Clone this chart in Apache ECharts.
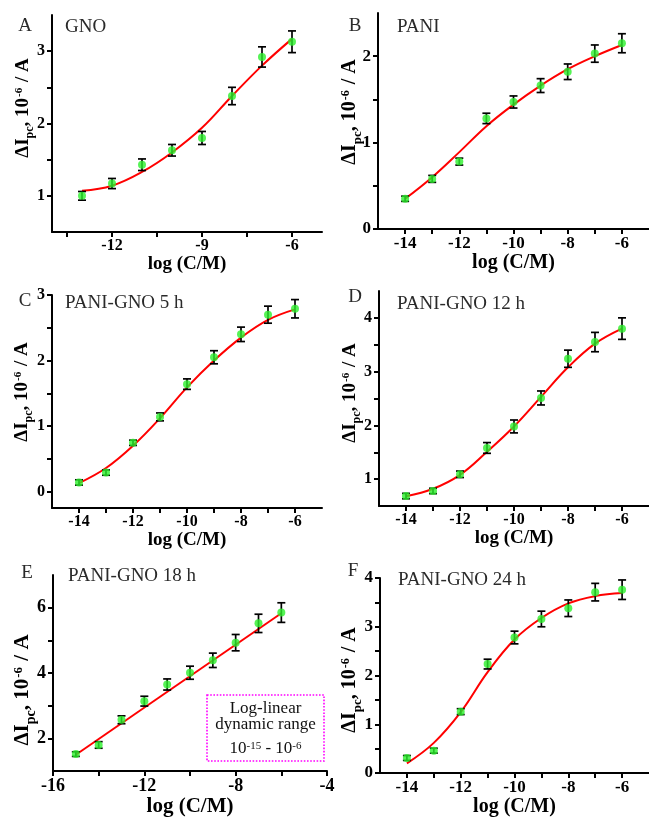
<!DOCTYPE html>
<html><head><meta charset="utf-8">
<script src="https://cdn.jsdelivr.net/npm/echarts@6/dist/echarts.min.js"></script>
<style>html,body{margin:0;padding:0;background:#fff}#c{width:649px;height:818px}</style>
</head><body><div id="c"></div>
<script>
// ---------- data ----------
const xA = [-13, -12, -11, -10, -9, -8, -7, -6];
const yA = [1.00, 1.17, 1.43, 1.63, 1.80, 2.38, 2.92, 3.13];
const eA = [0.06, 0.07, 0.08, 0.08, 0.09, 0.12, 0.14, 0.15];
const fitA = [1.07, 1.14, 1.33, 1.60, 1.94, 2.38, 2.80, 3.17];

const xB = [-14, -13, -12, -11, -10, -9, -8, -7, -6];
const yB = [0.35, 0.58, 0.78, 1.28, 1.47, 1.66, 1.82, 2.03, 2.15];
const eB = [0.03, 0.04, 0.04, 0.06, 0.07, 0.08, 0.09, 0.10, 0.11];
const fitB = [0.35, 0.60, 0.89, 1.19, 1.44, 1.66, 1.85, 2.00, 2.13];

const xC = [-14, -13, -12, -11, -10, -9, -8, -7, -6];
const yC = [0.14, 0.29, 0.745, 1.14, 1.64, 2.05, 2.40, 2.70, 2.79];
const eC = [0.04, 0.04, 0.04, 0.06, 0.08, 0.10, 0.11, 0.13, 0.14];
const fitC = [0.13, 0.36, 0.70, 1.12, 1.59, 2.00, 2.35, 2.62, 2.78];

const xD = [-14, -13, -12, -11, -10, -9, -8, -7, -6];
const yD = [0.685, 0.78, 1.09, 1.58, 1.98, 2.51, 3.24, 3.55, 3.80];
const eD = [0.05, 0.05, 0.06, 0.10, 0.12, 0.13, 0.16, 0.18, 0.20];
const fitD = [0.68, 0.82, 1.08, 1.51, 1.98, 2.53, 3.08, 3.52, 3.80];

const xE = [-15, -14, -13, -12, -11, -10, -9, -8, -7, -6];
const yE = [1.52, 1.80, 2.57, 3.14, 3.65, 4.01, 4.39, 4.93, 5.52, 5.85];
const eE = [0.07, 0.10, 0.12, 0.15, 0.17, 0.20, 0.22, 0.25, 0.28, 0.30];
const xFitE = [-15, -6];
const fitE = [1.50, 5.83];

const xF = [-14, -13, -12, -11, -10, -9, -8, -7, -6];
const yF = [0.31, 0.46, 1.26, 2.235, 2.78, 3.16, 3.38, 3.71, 3.76];
const eF = [0.05, 0.05, 0.06, 0.10, 0.13, 0.16, 0.17, 0.18, 0.20];
const fitF = [0.20, 0.62, 1.25, 2.07, 2.74, 3.18, 3.48, 3.63, 3.69];

// tick labels / tick positions
const xLabA = [-12, -9, -6];            const xTickA = [-13.5, -12, -10.5, -9, -7.5, -6];
const yLabA = [1, 2, 3];                const yTickA = [1, 1.5, 2, 2.5, 3];
const xLab2 = [-14, -12, -10, -8, -6];  const xTick2 = [-14, -13, -12, -11, -10, -9, -8, -7, -6];
const yLabB = [0, 1, 2];                const yTickB = [0, 0.5, 1, 1.5, 2];
const yLabC = [0, 1, 2, 3];             const yTickC = [0, 0.5, 1, 1.5, 2, 2.5, 3];
const yLabD = [1, 2, 3, 4];             const yTickD = [1, 1.5, 2, 2.5, 3, 3.5, 4];
const xLabE = [-16, -12, -8, -4];       const xTickE = [-16, -14, -12, -10, -8, -6, -4];
const yLabE = [2, 4, 6];                const yTickE = [2, 3, 4, 5, 6];
const yLabF = [0, 1, 2, 3, 4];          const yTickF = [0, 0.5, 1, 1.5, 2, 2.5, 3, 3.5, 4];

const letters = ['A', 'B', 'C', 'D', 'E', 'F'];
const names = ['GNO', 'PANI', 'PANI-GNO 5 h', 'PANI-GNO 12 h', 'PANI-GNO 18 h', 'PANI-GNO 24 h'];
const xTitle = 'log (C/M)';

// ---------- layout ----------
const FONT = '"Liberation Serif","Times New Roman",serif';
const panels = [
  {x: xA, y: yA, e: eA, fx: xA, fy: fitA, xr: [-14, -5], yr: [0.5, 3.5], xl: xLabA, xt: xTickA, yl: yLabA, yt: yTickA,
   g: {left: 52, top: 15, width: 270, height: 217}, s: 1.0, gap: 19, yt0: [25, 108], lab: [25, 26], nm: [65, 27]},
  {x: xB, y: yB, e: eB, fx: xB, fy: fitB, xr: [-15, -5], yr: [0, 2.5], xl: xLab2, xt: xTick2, yl: yLabB, yt: yTickB,
   g: {left: 378, top: 13, width: 272, height: 216}, s: 1.08, gap: 24, yt0: [352, 112], lab: [355, 26], nm: [397, 27]},
  {x: xC, y: yC, e: eC, fx: xC, fy: fitC, xr: [-15, -5], yr: [-0.25, 3], xl: xLab2, xt: xTick2, yl: yLabC, yt: yTickC,
   g: {left: 52, top: 295, width: 270, height: 213}, s: 1.0, gap: 8, yt0: [24, 392], lab: [25, 301], nm: [65, 303]},
  {x: xD, y: yD, e: eD, fx: xD, fy: fitD, xr: [-15, -5], yr: [0.5, 4.5], xl: xLab2, xt: xTick2, yl: yLabD, yt: yTickD,
   g: {left: 379, top: 291, width: 272, height: 215}, s: 1.0, gap: 11, yt0: [352, 393], lab: [355, 297], nm: [397, 304]},
  {x: xE, y: yE, e: eE, fx: xFitE, fy: fitE, xr: [-16, -4], yr: [1, 7], xl: xLabE, xt: xTickE, yl: yLabE, yt: yTickE,
   g: {left: 53, top: 575, width: 274, height: 204}, s: 1.13, gap: 17, yt0: [25, 690], lab: [27, 573], nm: [68, 576]},
  {x: xF, y: yF, e: eF, fx: xF, fy: fitF, xr: [-15, -5], yr: [0, 4], xl: xLab2, xt: xTick2, yl: yLabF, yt: yTickF,
   g: {left: 380, top: 578, width: 272, height: 204}, s: 1.06, gap: 10, yt0: [352, 680], lab: [353, 571], nm: [398, 580]}
];

function errRender(params, api) {
  const x = api.value(0), y = api.value(1), e = api.value(2);
  const t = api.coord([x, y + e]), b = api.coord([x, y - e]);
  const w = 4;
  const st = {stroke: '#000', lineWidth: 1.7};
  return {type: 'group', children: [
    {type: 'line', shape: {x1: t[0], y1: t[1], x2: b[0], y2: b[1]}, style: st},
    {type: 'line', shape: {x1: t[0] - w, y1: t[1], x2: t[0] + w, y2: t[1]}, style: st},
    {type: 'line', shape: {x1: b[0] - w, y1: b[1], x2: b[0] + w, y2: b[1]}, style: st}
  ]};
}

const grid = [], xAxis = [], yAxis = [], series = [], graphic = [];
panels.forEach((p, i) => {
  const tick = Math.round(16 * p.s), ttl = Math.round(18.6 * p.s);
  grid.push(Object.assign({}, p.g));
  const axLine = {show: true, onZero: false, lineStyle: {color: '#000', width: 2}};
  xAxis.push({gridIndex: i, type: 'value', min: p.xr[0], max: p.xr[1],
    axisLine: axLine,
    axisTick: {show: true, customValues: p.xt, length: 5, lineStyle: {color: '#000', width: 2}},
    axisLabel: {customValues: p.xl, fontFamily: FONT, fontWeight: 'bold', fontSize: tick, color: '#000', margin: 6},
    splitLine: {show: false},
    name: xTitle, nameLocation: 'middle', nameGap: p.gap,
    nameTextStyle: {fontFamily: FONT, fontWeight: 'bold', fontSize: ttl, color: '#000'}});
  yAxis.push({gridIndex: i, type: 'value', min: p.yr[0], max: p.yr[1],
    axisLine: axLine,
    axisTick: {show: true, customValues: p.yt, length: 5, lineStyle: {color: '#000', width: 2}},
    axisLabel: {customValues: p.yl, fontFamily: FONT, fontWeight: 'bold', fontSize: tick, color: '#000', margin: 7},
    splitLine: {show: false}});
  series.push({type: 'line', xAxisIndex: i, yAxisIndex: i, smooth: p.fx.length > 2 ? 0.4 : false,
    showSymbol: false, data: p.fx.map((v, k) => [v, p.fy[k]]),
    lineStyle: {color: '#ff0000', width: 2}, z: 2, silent: true});
  series.push({type: 'custom', xAxisIndex: i, yAxisIndex: i, renderItem: errRender,
    encode: {x: 0, y: 1}, data: p.x.map((v, k) => [v, p.y[k], p.e[k]]), z: 3, silent: true});
  series.push({type: 'scatter', xAxisIndex: i, yAxisIndex: i, symbolSize: 8,
    itemStyle: {color: '#2cf02c'}, data: p.x.map((v, k) => [v, p.y[k]]), z: 4, silent: true});

  // y-axis title (rotated rich text)
  const f = ttl;
  graphic.push({type: 'text', x: p.yt0[0], y: p.yt0[1], rotation: Math.PI / 2,
    style: {text: '{m|ΔI}{s|pc}{m|, 10}{p|-6}{m| / A}', align: 'center', verticalAlign: 'middle',
      rich: {
        m: {fontFamily: FONT, fontWeight: 'bold', fontSize: f, fill: '#000', verticalAlign: 'top', lineHeight: f},
        s: {fontFamily: FONT, fontWeight: 'bold', fontSize: Math.round(f * 0.65), fill: '#000', verticalAlign: 'top', padding: [Math.round(f * 0.55), 0, 0, 0]},
        p: {fontFamily: FONT, fontWeight: 'bold', fontSize: Math.round(f * 0.6), fill: '#000', verticalAlign: 'top', padding: [0, 1, 0, 1]}
      }}});
  graphic.push({type: 'text', x: p.lab[0], y: p.lab[1],
    style: {text: letters[i], fontFamily: FONT, fontSize: 19, fill: '#2a2a2a', align: 'center', verticalAlign: 'middle'}});
  graphic.push({type: 'text', x: p.nm[0], y: p.nm[1],
    style: {text: names[i], fontFamily: FONT, fontSize: 19, fill: '#2a2a2a', align: 'left', verticalAlign: 'middle'}});
});

// legend box in panel E
graphic.push({type: 'rect', shape: {x: 207, y: 695, width: 117, height: 66},
  style: {fill: '#fff', stroke: '#ff00ff', lineWidth: 1.6, lineDash: [1.6, 1.6]}, z: 10});
graphic.push({type: 'text', x: 265.5, y: 709, z: 11,
  style: {text: 'Log-linear', fontFamily: FONT, fontSize: 17, fill: '#111', align: 'center', verticalAlign: 'middle'}});
graphic.push({type: 'text', x: 265.5, y: 725, z: 11,
  style: {text: 'dynamic range', fontFamily: FONT, fontSize: 17, fill: '#111', align: 'center', verticalAlign: 'middle'}});
graphic.push({type: 'text', x: 265.5, y: 749, z: 11,
  style: {text: '{m|10}{p|-15}{m| - 10}{p|-6}', align: 'center', verticalAlign: 'middle',
    rich: {
      m: {fontFamily: FONT, fontSize: 17, fill: '#111', verticalAlign: 'top', lineHeight: 17},
      p: {fontFamily: FONT, fontSize: 11, fill: '#111', verticalAlign: 'top'}
    }}});

const chart = echarts.init(document.getElementById('c'), null, {renderer: 'canvas'});
chart.setOption({animation: false, backgroundColor: '#fff', grid, xAxis, yAxis, series, graphic});
</script></body></html>
